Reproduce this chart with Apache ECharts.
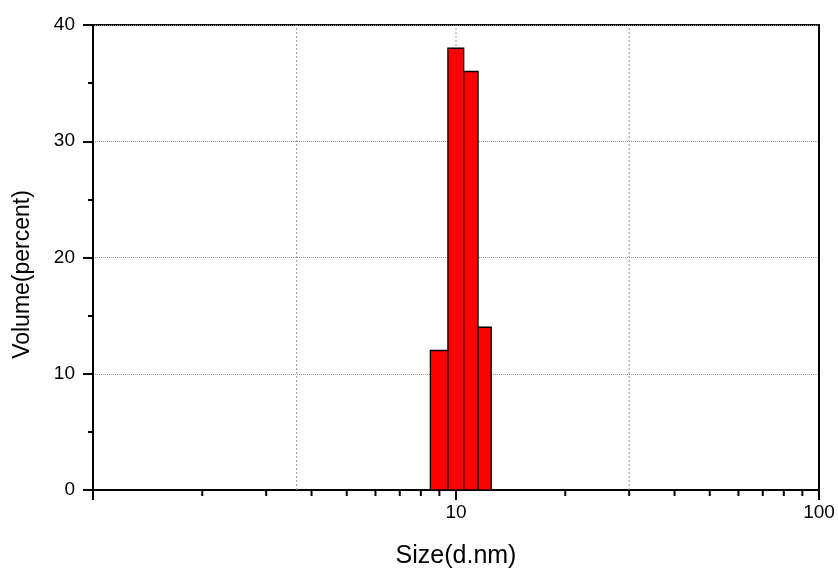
<!DOCTYPE html>
<html>
<head>
<meta charset="utf-8">
<script src="https://cdn.jsdelivr.net/npm/echarts@6/dist/echarts.min.js"></script>
<style>html,body{margin:0;padding:0;background:#fff}#c{width:838px;height:568px}</style>
</head>
<body>
<div id="c"></div>
<script>
var binStart = [8.5, 9.5, 10.5, 11.5];
var binEnd = [9.5, 10.5, 11.5, 12.5];
var volume = [12, 38, 36, 14];
var xMinorTicks = [2, 3, 4, 5, 6, 7, 8, 9, 20, 30, 40, 50, 60, 70, 80, 90];
var xGridValues = [3.64, 10, 30];
var xLabelsShown = [10, 100];

var FONT = 'Liberation Sans';
var chart = echarts.init(document.getElementById('c'), null, {renderer: 'canvas'});

var barData = binStart.map(function (s, i) { return [s, binEnd[i], volume[i]]; });

chart.setOption({
  animation: false,
  backgroundColor: '#ffffff',
  grid: {left: 93, right: 19, top: 25, bottom: 78, show: true, borderColor: '#000', borderWidth: 2, backgroundColor: 'transparent', containLabel: false, outerBoundsMode: 'none'},
  xAxis: {
    type: 'log', logBase: 10, min: 1, max: 100,
    name: 'Size(d.nm)', nameLocation: 'middle', nameGap: 54,
    nameTextStyle: {fontFamily: FONT, fontSize: 25, color: '#000'},
    axisLine: {show: true, lineStyle: {color: '#000', width: 2}},
    axisTick: {show: true, inside: false, length: 10, lineStyle: {color: '#000', width: 2}},
    minorTick: {show: false},
    splitLine: {show: false},
    axisLabel: {
      fontFamily: FONT, fontSize: 19, color: '#000', margin: 13,
      formatter: function (v) { return xLabelsShown.indexOf(Math.round(v)) >= 0 ? String(Math.round(v)) : ''; }
    }
  },
  yAxis: {
    type: 'value', min: 0, max: 40, interval: 10,
    name: 'Volume(percent)', nameLocation: 'middle', nameGap: 59, nameRotate: 90,
    nameTextStyle: {fontFamily: FONT, fontSize: 23, color: '#000', padding: [0, 34, 0, 0]},
    axisLine: {show: true, lineStyle: {color: '#000', width: 2}},
    axisTick: {show: true, inside: false, length: 10, lineStyle: {color: '#000', width: 2}},
    minorTick: {show: true, splitNumber: 2, length: 5, lineStyle: {color: '#000', width: 2}},
    splitLine: {show: true, lineStyle: {color: '#999', type: 'dotted', width: 1}},
    axisLabel: {fontFamily: FONT, fontSize: 19, color: '#000', margin: 18}
  },
  series: [
    {
      type: 'custom', z: 1, clip: false, silent: true,
      data: xGridValues.map(function (v) { return [v]; }),
      renderItem: function (params, api) {
        var v = api.value(0);
        var p0 = api.coord([v, 0]);
        var p1 = api.coord([v, 40]);
        return {type: 'line', shape: {x1: p0[0], y1: p0[1], x2: p1[0], y2: p1[1]},
          style: {stroke: '#999', lineWidth: 1, lineDash: [2, 2]}};
      }
    },
    {
      type: 'custom', z: 5, clip: false, silent: true,
      data: xMinorTicks.map(function (v) { return [v]; }),
      renderItem: function (params, api) {
        var p = api.coord([api.value(0), 0]);
        return {type: 'line', shape: {x1: p[0], y1: p[1], x2: p[0], y2: p[1] + 6},
          style: {stroke: '#000', lineWidth: 2}};
      }
    },
    {
      type: 'custom', z: 3,
      data: barData,
      renderItem: function (params, api) {
        var a = api.coord([api.value(0), api.value(2)]);
        var b = api.coord([api.value(1), 0]);
        return {type: 'rect', shape: {x: a[0], y: a[1], width: b[0] - a[0], height: b[1] - a[1]},
          style: {fill: '#ff0000', stroke: '#000', lineWidth: 1.3}};
      }
    }
  ]
});
</script>
</body>
</html>
